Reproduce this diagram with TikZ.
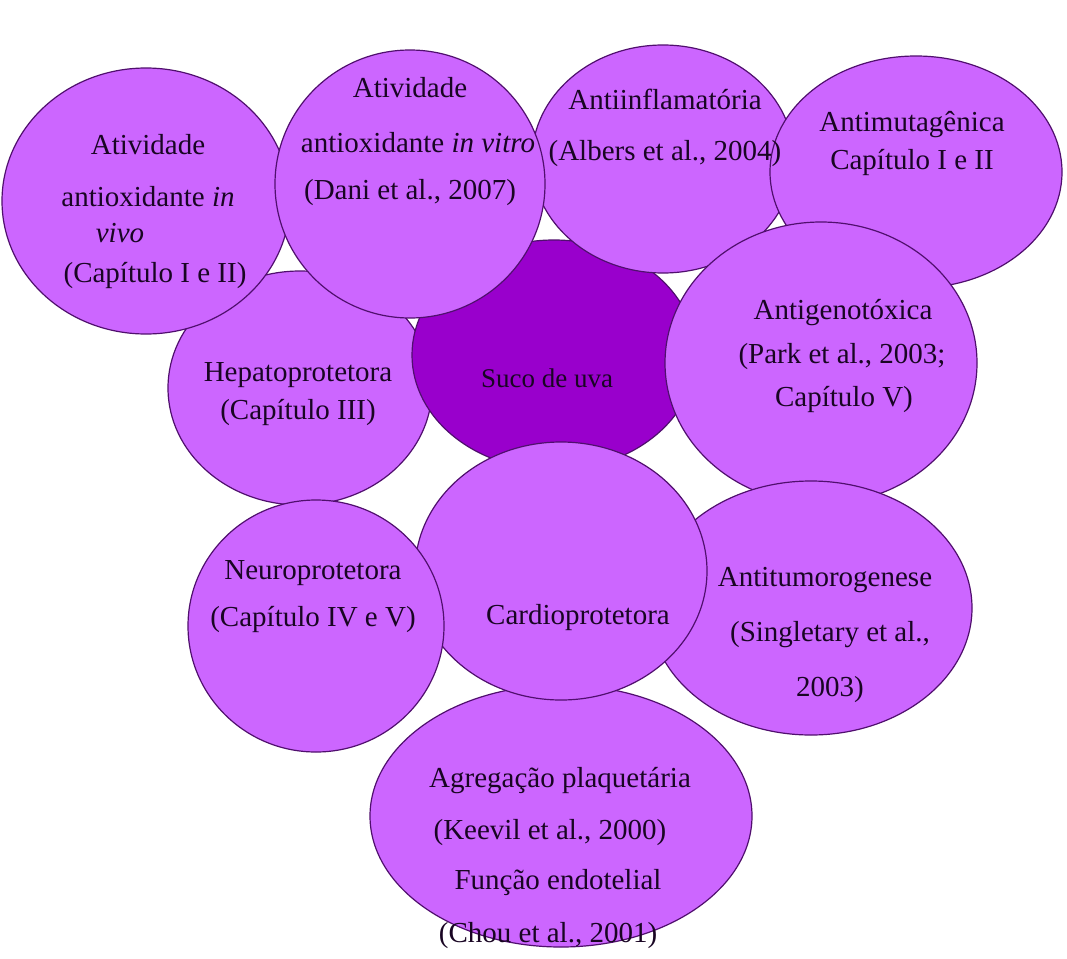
\documentclass[tikz,border=0pt]{standalone}
\usepackage{fontspec}
\setmainfont{Liberation Serif}
\definecolor{lightp}{RGB}{204,102,255}
\definecolor{darkp}{RGB}{153,0,204}
\definecolor{edgep}{RGB}{80,15,110}
\definecolor{txt}{RGB}{25,5,35}
\tikzset{
  bub/.style={fill=lightp, draw=edgep, line width=1.2pt},
  core/.style={fill=darkp, draw=edgep, line width=1.2pt},
  lbl/.style={inner sep=0pt, text=txt, font=\fontsize{29}{31}\selectfont, anchor=base},
  slbl/.style={lbl, font=\fontsize{27}{29}\selectfont}
}
\begin{document}
\begin{tikzpicture}[x=1pt,y=-1pt]
\useasboundingbox (0,0) rectangle (1067,958);
\fill[white] (0,0) rectangle (1067,958);
% ellipses, back to front
\path[bub]  (300,388) ellipse [x radius=132, y radius=117]; % hepato
\path[bub]  (146,201) ellipse [x radius=144, y radius=133]; % in vivo
\path[core] (554,355) ellipse [x radius=142, y radius=115]; % suco
\path[bub]  (663,159) ellipse [x radius=131, y radius=114]; % antiinfl
\path[bub]  (410,184) ellipse [x radius=135, y radius=134]; % in vitro
\path[bub]  (916,172) ellipse [x radius=146, y radius=116]; % antimut
\path[bub]  (821,363) ellipse [x radius=156, y radius=141]; % antigeno
\path[bub]  (811,608) ellipse [x radius=161, y radius=127]; % antitumor
\path[bub]  (561,816) ellipse [x radius=191, y radius=131]; % agregacao
\path[bub]  (561,571) ellipse [x radius=146, y radius=129]; % cardio
\path[bub]  (316,626) ellipse [x radius=128, y radius=126]; % neuro
% texts
\node[lbl] (va) at (148,154) {Atividade};
\node[lbl] (vb) at (148,206) {antioxidante \textit{in}};
\node[lbl] (vc) at (120,242) {\textit{vivo}};
\node[lbl] (vd) at (155,282) {(Capítulo I e II)};
\node[lbl] (ta) at (410,97) {Atividade};
\node[lbl] (tb) at (418,152) {antioxidante \textit{in vitro}};
\node[lbl] (tc) at (410,199) {(Dani et al., 2007)};
\node[lbl] (ia) at (665,109) {Antiinflamatória};
\node[lbl] (ib) at (665,160) {(Albers et al., 2004)};
\node[lbl] (ma) at (912,131) {Antimutagênica};
\node[lbl] (mb) at (912,169) {Capítulo I e II};
\node[lbl] (ha) at (298,381) {Hepatoprotetora};
\node[lbl] (hb) at (298,419) {(Capítulo III)};
\node[slbl] (s) at (547,387) {Suco de uva};
\node[lbl] (ga) at (843,319) {Antigenotóxica};
\node[lbl] (gb) at (842,363) {(Park et al., 2003;};
\node[lbl] (gc) at (844,406) {Capítulo V)};
\node[lbl] (na) at (313,579) {Neuroprotetora};
\node[lbl] (nb) at (313,626) {(Capítulo IV e V)};
\node[lbl] (c) at (578,624) {Cardioprotetora};
\node[lbl] (ua) at (825,586) {Antitumorogenese};
\node[lbl] (ub) at (830,641) {(Singletary et al.,};
\node[lbl] (uc) at (830,696) {2003)};
\node[lbl] (aa) at (560,787) {Agregação plaquetária};
\node[lbl] (ab) at (550,839) {(Keevil et al., 2000)};
\node[lbl] (ac) at (558,889) {Função endotelial};
\node[lbl] (ad) at (548,942) {(Chou et al., 2001)};
\end{tikzpicture}
\end{document}
